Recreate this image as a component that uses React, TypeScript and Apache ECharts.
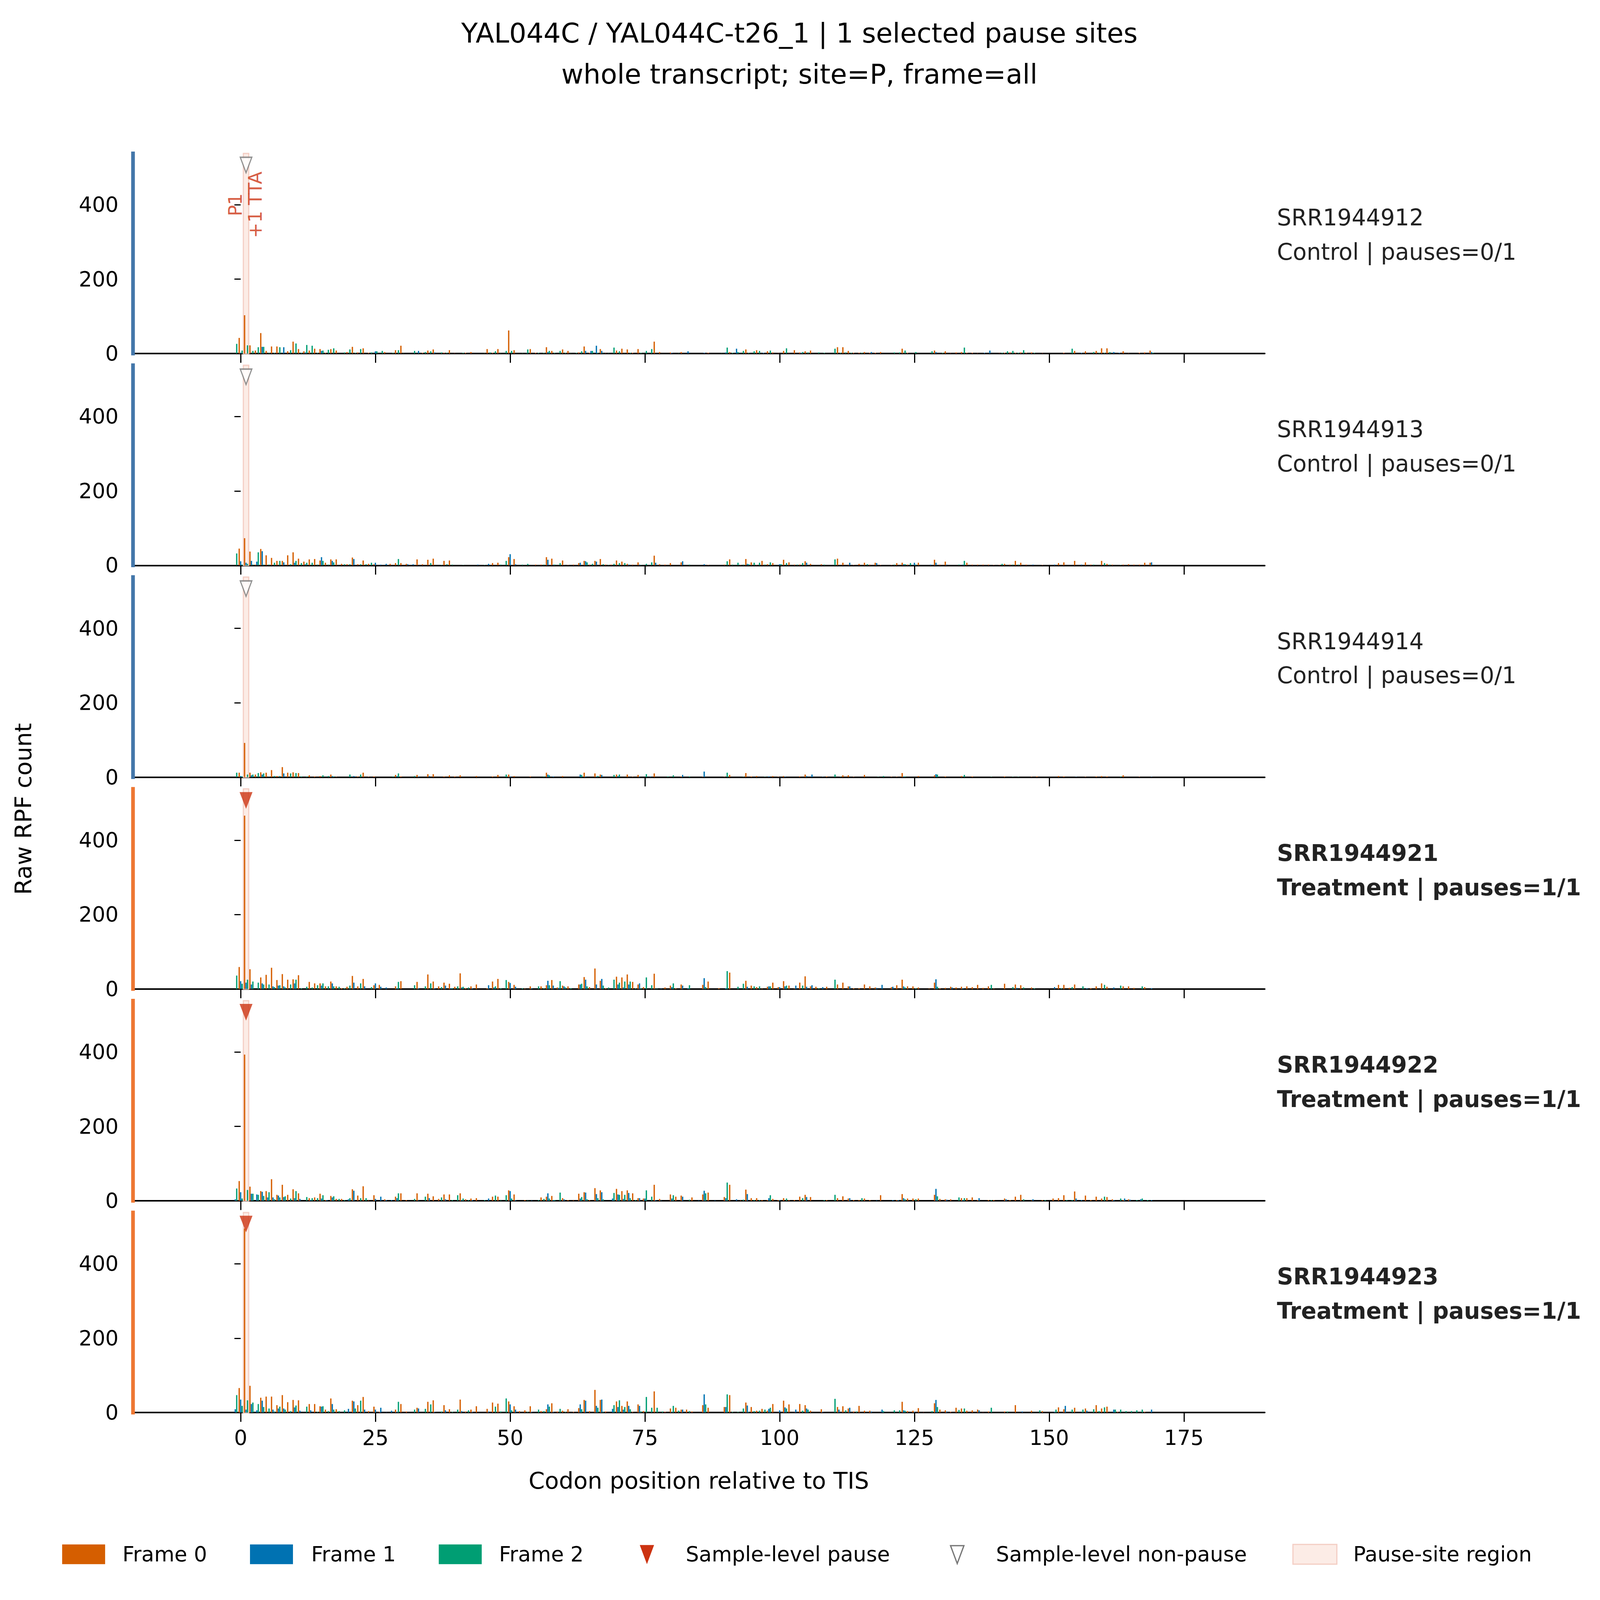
import React, { useEffect, useRef } from 'react';
import * as echarts from 'echarts';

type Pt = [number, number];

// ---- data: [codon, raw RPF count] per frame ----
const S912_F0: Pt[] = [[0,42],[1,103],[2,22],[3,8],[4,55],[5,7],[6,19],[7,19],[9,6],[10,32],[11,12],[12,6],[13,8],[14,13],[15,12],[16,2],[17,12],[18,8],[20,4],[21,18],[22,3],[23,14],[24,2],[27,4],[29,9],[30,21],[34,2],[35,8],[36,11],[38,2],[39,9],[40,1],[42,2],[43,4],[46,12],[47,2],[48,12],[50,62],[51,9],[54,12],[55,2],[57,17],[58,7],[60,11],[61,7],[63,3],[64,19],[65,2],[67,12],[68,1],[70,8],[71,13],[72,11],[73,2],[74,12],[77,32],[78,4],[80,3],[82,4],[87,2],[91,4],[94,11],[96,9],[98,6],[99,3],[100,1],[101,7],[102,1],[103,9],[104,3],[105,6],[106,8],[111,17],[112,17],[113,7],[114,2],[115,2],[116,4],[117,2],[118,2],[119,4],[123,13],[124,2],[129,8],[131,6],[132,1],[133,3],[134,4],[135,2],[136,2],[137,1],[141,1],[142,2],[143,3],[144,2],[145,3],[146,2],[147,3],[149,1],[153,2],[155,7],[157,6],[159,7],[160,14],[161,14],[164,6],[165,1],[167,2],[168,3],[169,8]];
const S912_F1: Pt[] = [[0,2],[4,18],[8,17],[12,3],[15,7],[25,6],[33,7],[36,3],[53,1],[57,4],[64,7],[65,7],[66,21],[67,7],[80,2],[83,6],[86,2],[90,3],[92,13],[97,2],[104,2],[117,4],[129,4],[138,2],[139,8],[156,2],[162,4],[163,2],[169,4]];
const S912_F2: Pt[] = [[-1,26],[0,8],[1,22],[2,7],[3,17],[4,18],[5,2],[6,2],[7,17],[9,9],[10,27],[11,2],[12,23],[13,21],[14,2],[15,8],[16,10],[17,14],[19,3],[20,11],[21,2],[22,12],[24,3],[25,6],[26,7],[28,2],[29,9],[30,1],[32,7],[34,4],[35,6],[37,3],[38,2],[41,2],[45,1],[46,3],[47,6],[48,1],[49,7],[50,7],[52,1],[53,11],[55,2],[56,2],[57,7],[58,2],[59,7],[60,2],[61,1],[62,2],[63,6],[65,7],[66,2],[67,1],[68,1],[69,16],[70,6],[71,1],[72,2],[74,2],[75,7],[76,12],[81,1],[89,1],[90,16],[91,2],[92,4],[93,7],[94,2],[95,6],[96,7],[98,8],[101,14],[104,4],[105,3],[107,3],[108,2],[110,13],[111,2],[112,3],[113,2],[115,2],[121,3],[122,3],[123,8],[125,4],[128,6],[130,2],[134,16],[141,2],[142,6],[143,7],[144,2],[145,9],[147,2],[154,13],[158,4],[159,2],[160,2],[161,4],[169,2]];

const S913_F0: Pt[] = [[0,45],[1,73],[2,37],[3,2],[4,44],[5,27],[6,20],[7,12],[8,12],[9,27],[10,35],[11,18],[12,10],[13,16],[14,17],[15,13],[16,7],[17,16],[18,16],[19,4],[20,3],[21,21],[22,3],[23,13],[24,4],[25,3],[28,4],[29,6],[30,6],[31,4],[33,16],[34,3],[35,15],[36,18],[38,12],[39,13],[47,6],[48,7],[50,22],[51,17],[55,2],[56,2],[57,22],[58,18],[60,13],[61,1],[62,2],[63,6],[64,12],[65,2],[66,12],[67,17],[68,2],[69,2],[70,13],[71,10],[72,4],[73,2],[74,8],[77,26],[78,3],[79,2],[80,6],[82,8],[87,1],[90,2],[91,16],[93,1],[94,17],[95,8],[96,1],[97,12],[98,3],[99,6],[101,15],[102,8],[103,2],[104,2],[105,11],[106,4],[108,3],[111,18],[112,7],[113,2],[114,1],[115,4],[116,7],[117,2],[118,7],[119,1],[121,1],[122,6],[123,7],[124,2],[126,7],[129,15],[130,2],[131,10],[135,7],[136,2],[137,2],[138,2],[139,2],[140,1],[141,1],[142,4],[143,2],[144,12],[145,7],[146,2],[149,1],[152,6],[153,8],[155,12],[157,8],[158,2],[160,12],[161,4],[162,2],[164,2],[165,3],[166,2],[167,2],[168,7],[169,7]];
const S913_F1: Pt[] = [[0,11],[1,7],[2,12],[3,10],[4,38],[8,8],[10,7],[12,3],[15,22],[17,12],[21,17],[25,7],[26,2],[27,4],[31,3],[32,3],[44,2],[46,4],[50,30],[51,3],[57,15],[58,2],[60,1],[63,7],[64,11],[66,10],[72,2],[74,2],[77,7],[82,11],[86,3],[94,4],[100,3],[105,7],[113,7],[118,6],[123,3],[125,7],[128,2],[129,7],[131,2],[134,2],[147,2],[151,2],[156,2],[169,8]];
const S913_F2: Pt[] = [[-1,32],[0,2],[1,4],[2,2],[3,35],[4,2],[5,2],[6,7],[7,12],[9,3],[10,12],[11,6],[12,7],[13,7],[14,2],[15,12],[16,2],[17,8],[19,3],[20,3],[22,3],[23,3],[24,7],[29,17],[35,6],[37,1],[38,3],[39,2],[41,1],[45,1],[48,2],[49,12],[52,2],[53,4],[56,2],[58,2],[59,6],[64,8],[65,4],[67,3],[68,1],[69,4],[70,6],[71,6],[74,1],[75,4],[76,8],[83,2],[90,11],[91,2],[92,7],[93,2],[94,3],[95,7],[96,7],[97,2],[98,8],[100,3],[101,6],[103,2],[104,6],[108,2],[110,16],[116,3],[121,2],[123,3],[124,6],[125,2],[133,2],[134,12],[141,4],[143,2],[144,2],[158,2],[160,6],[161,2],[163,1]];

const S914_F0: Pt[] = [[0,12],[1,92],[2,12],[3,7],[4,13],[5,12],[6,19],[7,3],[8,27],[9,12],[10,13],[11,11],[13,5],[14,2],[15,3],[17,7],[18,1],[22,2],[23,12],[24,1],[25,2],[29,6],[30,2],[33,6],[35,8],[36,8],[38,2],[39,5],[40,2],[41,5],[44,3],[47,2],[48,6],[50,7],[51,3],[54,2],[57,12],[60,3],[64,12],[66,10],[67,7],[70,7],[72,7],[73,1],[74,6],[77,10],[82,2],[86,1],[90,1],[91,6],[94,11],[95,2],[96,3],[99,3],[100,1],[101,3],[104,2],[105,7],[109,2],[112,5],[113,5],[114,1],[116,6],[121,1],[122,1],[123,11],[126,3],[129,5],[131,2],[134,3],[136,2],[142,2],[147,1],[148,2],[152,3],[153,2],[157,1],[159,2],[160,3],[161,2],[164,5],[167,1]];
const S914_F1: Pt[] = [[0,3],[2,5],[4,7],[8,10],[17,3],[21,3],[29,3],[33,2],[35,3],[50,2],[57,7],[58,2],[63,7],[64,2],[66,2],[67,6],[70,3],[74,2],[76,2],[82,6],[86,15],[98,2],[101,2],[105,3],[106,7],[108,1],[123,2],[129,8],[155,1],[169,1]];
const S914_F2: Pt[] = [[-1,12],[0,2],[1,7],[2,7],[3,11],[4,10],[5,1],[6,3],[7,3],[9,10],[10,11],[11,2],[12,2],[15,5],[16,3],[17,2],[20,7],[22,7],[28,2],[29,10],[32,3],[49,7],[56,2],[57,5],[63,6],[66,3],[69,6],[70,7],[75,8],[79,2],[80,5],[83,2],[90,12],[93,1],[97,1],[110,7],[111,1],[118,1],[119,3],[123,2],[129,7],[134,6],[139,1],[143,1],[144,1],[163,2]];

const S921_F0: Pt[] = [[0,59],[1,466],[2,53],[4,31],[5,38],[6,57],[7,24],[8,40],[9,25],[10,26],[11,37],[13,19],[14,15],[15,15],[16,7],[17,20],[18,7],[19,2],[20,6],[21,35],[22,7],[23,27],[25,10],[26,11],[29,7],[30,21],[33,19],[35,39],[36,20],[37,7],[38,17],[39,14],[40,6],[41,42],[42,2],[43,7],[44,12],[46,2],[47,20],[48,27],[50,19],[51,11],[53,1],[54,7],[56,7],[57,10],[58,24],[59,4],[60,9],[61,7],[63,12],[64,32],[65,5],[66,55],[67,22],[68,2],[70,33],[71,31],[72,39],[73,19],[74,12],[75,5],[77,41],[79,4],[80,9],[81,2],[82,12],[86,11],[87,20],[89,2],[91,44],[94,22],[95,9],[96,5],[97,1],[98,6],[99,17],[100,5],[101,21],[102,9],[103,1],[104,17],[105,34],[106,7],[107,6],[109,6],[111,12],[112,17],[113,7],[114,2],[115,2],[116,12],[117,7],[118,4],[121,5],[122,10],[123,25],[124,7],[125,7],[126,4],[128,1],[129,17],[130,2],[131,3],[132,6],[133,4],[134,6],[135,7],[136,5],[137,11],[138,3],[139,7],[140,1],[142,14],[144,12],[145,10],[147,4],[152,11],[153,11],[154,3],[155,12],[158,2],[159,7],[160,15],[161,6],[164,7],[165,7],[166,3],[168,5]];
const S921_F1: Pt[] = [[0,21],[1,17],[2,12],[4,15],[6,7],[7,9],[8,7],[10,15],[15,9],[17,15],[21,17],[23,7],[25,15],[26,6],[27,4],[29,2],[33,2],[36,2],[38,9],[39,2],[41,4],[43,2],[46,10],[47,4],[50,16],[51,6],[54,2],[57,22],[58,9],[59,3],[60,7],[63,12],[64,25],[66,12],[67,27],[70,12],[71,4],[72,12],[74,15],[77,1],[78,1],[80,5],[82,9],[83,2],[86,29],[90,2],[94,6],[98,7],[100,5],[101,7],[103,9],[105,6],[106,10],[108,5],[113,7],[118,3],[119,11],[121,6],[123,7],[129,26],[132,4],[134,2],[144,3],[151,5],[157,2],[162,4],[169,2]];
const S921_F2: Pt[] = [[-1,36],[0,14],[1,25],[2,20],[3,17],[4,12],[5,12],[6,5],[7,10],[8,4],[9,12],[10,25],[11,2],[12,6],[13,4],[14,10],[15,15],[16,7],[17,7],[18,6],[19,2],[20,9],[22,15],[24,5],[29,19],[32,10],[34,7],[35,15],[37,5],[39,2],[40,7],[41,6],[42,4],[47,7],[48,2],[49,24],[52,2],[55,7],[56,2],[57,10],[59,21],[60,4],[61,2],[63,14],[64,7],[67,9],[68,4],[69,25],[70,17],[71,20],[72,20],[73,2],[74,2],[75,31],[76,10],[77,1],[80,15],[83,10],[86,5],[90,48],[92,6],[93,14],[95,7],[96,7],[98,7],[101,9],[104,9],[107,2],[110,25],[123,4],[125,2],[129,6],[139,11],[143,5],[145,4],[147,2],[152,2],[154,5],[156,7],[160,11],[163,9],[167,7]];

const S922_F0: Pt[] = [[0,53],[1,393],[2,38],[4,26],[5,26],[6,58],[7,16],[8,43],[9,16],[10,31],[11,20],[13,7],[14,9],[15,19],[16,2],[17,13],[18,5],[19,5],[21,31],[22,14],[23,39],[24,1],[25,15],[27,4],[29,11],[30,20],[31,2],[33,20],[35,19],[36,12],[37,5],[38,17],[39,17],[41,20],[42,4],[43,6],[44,7],[47,11],[48,11],[50,28],[51,17],[53,2],[56,9],[57,11],[58,13],[60,7],[61,2],[62,1],[63,19],[64,23],[65,2],[66,34],[67,28],[70,32],[71,26],[72,28],[73,20],[74,7],[75,6],[77,43],[78,5],[80,17],[81,11],[82,14],[84,9],[86,17],[87,22],[90,10],[91,43],[93,1],[94,30],[95,7],[96,7],[97,2],[98,2],[99,5],[100,2],[101,7],[102,2],[103,2],[104,11],[105,16],[106,10],[109,2],[111,7],[112,12],[113,6],[114,2],[115,2],[116,6],[117,2],[119,15],[122,2],[123,18],[124,6],[125,6],[126,6],[129,16],[130,5],[131,4],[132,4],[134,7],[135,7],[136,9],[137,2],[139,2],[140,2],[142,6],[143,2],[144,11],[145,16],[147,1],[149,2],[151,6],[152,7],[153,15],[155,25],[157,14],[158,2],[159,11],[160,6],[161,10],[162,4],[164,2],[165,4]];
const S922_F1: Pt[] = [[-1,4],[0,23],[2,19],[3,17],[4,24],[5,9],[6,9],[7,14],[8,10],[10,7],[11,5],[13,2],[15,6],[16,2],[17,9],[20,4],[21,27],[25,5],[26,11],[27,2],[28,2],[29,7],[33,1],[35,7],[38,4],[41,2],[43,2],[46,6],[50,26],[51,2],[54,1],[57,20],[58,2],[60,4],[63,6],[64,22],[66,18],[67,23],[69,6],[70,17],[71,5],[72,21],[74,7],[75,6],[77,2],[78,1],[80,6],[82,11],[85,1],[86,27],[88,1],[90,7],[92,4],[94,18],[98,7],[100,2],[105,10],[113,7],[118,1],[121,2],[122,2],[123,7],[129,32],[131,3],[134,2],[137,7],[142,4],[147,4],[155,6],[156,2],[162,2],[164,6],[165,3],[167,4],[169,2]];
const S922_F2: Pt[] = [[-1,33],[0,6],[1,29],[2,19],[3,16],[4,13],[5,23],[6,4],[7,9],[8,12],[9,6],[10,26],[12,10],[13,7],[14,7],[15,15],[17,12],[18,5],[19,2],[20,7],[22,7],[23,7],[29,20],[32,5],[34,11],[37,9],[39,2],[40,15],[41,6],[42,2],[45,2],[47,14],[48,1],[49,15],[50,6],[53,1],[55,2],[56,5],[57,6],[58,2],[59,22],[63,10],[64,4],[66,7],[67,4],[69,21],[70,16],[71,16],[72,7],[73,2],[75,28],[76,11],[80,15],[83,3],[86,20],[90,49],[93,3],[95,2],[96,2],[98,15],[101,6],[104,7],[108,2],[110,16],[115,7],[123,4],[125,4],[129,12],[133,9],[134,7],[139,2],[145,4],[149,2],[153,2],[154,2],[160,11],[163,6],[166,2],[167,6],[168,2]];

const S923_F0: Pt[] = [[0,66],[1,495],[2,72],[4,40],[5,43],[6,43],[7,20],[8,47],[9,28],[10,34],[11,33],[13,23],[14,23],[15,17],[16,8],[17,38],[18,9],[21,32],[22,20],[23,42],[24,4],[25,16],[26,2],[29,8],[30,23],[31,3],[33,13],[35,29],[36,33],[38,20],[39,9],[41,35],[42,3],[43,8],[44,17],[46,10],[47,27],[48,24],[50,30],[51,17],[52,4],[53,6],[54,17],[56,4],[57,9],[58,25],[59,3],[60,5],[61,9],[62,2],[63,12],[64,34],[65,4],[66,61],[67,34],[68,3],[70,30],[71,18],[72,30],[73,2],[74,22],[75,4],[77,57],[79,2],[80,11],[81,13],[82,8],[83,8],[84,3],[86,20],[87,13],[90,15],[91,47],[94,27],[95,15],[96,5],[97,10],[98,5],[99,23],[100,1],[101,32],[102,22],[103,1],[104,23],[105,20],[106,5],[108,9],[111,15],[112,17],[113,11],[114,3],[115,18],[116,5],[117,5],[123,29],[124,4],[125,5],[126,12],[127,1],[129,25],[130,8],[131,6],[132,2],[133,13],[134,11],[135,5],[136,6],[137,8],[138,1],[139,3],[142,3],[144,20],[147,5],[149,4],[152,14],[153,9],[155,13],[157,11],[159,20],[160,11],[161,16],[163,2],[168,2]];
const S923_F1: Pt[] = [[-1,9],[0,35],[1,8],[2,23],[3,6],[4,32],[6,8],[7,11],[8,11],[10,14],[11,5],[13,6],[15,16],[17,23],[20,10],[21,30],[23,8],[25,8],[26,13],[27,1],[28,5],[29,2],[33,11],[36,2],[38,6],[41,4],[43,2],[46,3],[50,22],[51,8],[54,2],[57,22],[58,2],[63,22],[64,32],[66,18],[67,35],[69,10],[70,15],[71,8],[72,18],[74,18],[80,2],[82,8],[86,49],[90,15],[94,19],[98,10],[100,6],[101,14],[103,8],[105,11],[108,2],[111,8],[113,13],[117,3],[119,8],[123,6],[125,2],[129,34],[131,3],[137,6],[145,3],[151,2],[153,18],[156,1],[157,5],[162,8],[169,8]];
const S923_F2: Pt[] = [[-1,47],[0,18],[1,33],[2,27],[3,23],[4,15],[5,11],[6,3],[7,16],[8,8],[9,4],[10,19],[12,16],[14,2],[15,17],[16,4],[17,8],[18,4],[19,6],[21,11],[22,32],[29,29],[32,8],[34,10],[35,22],[37,3],[39,2],[40,8],[42,6],[47,16],[48,3],[49,38],[50,6],[53,2],[55,8],[56,4],[57,16],[59,10],[60,2],[63,9],[66,13],[67,2],[69,20],[70,33],[71,15],[72,9],[74,3],[75,42],[76,13],[77,13],[78,3],[80,18],[81,5],[83,4],[86,22],[90,49],[91,2],[92,2],[93,11],[94,2],[95,4],[96,5],[97,8],[98,13],[101,11],[104,5],[105,8],[110,37],[112,6],[114,3],[119,4],[121,6],[122,6],[123,5],[128,4],[129,15],[133,7],[134,11],[139,13],[142,3],[148,6],[151,8],[154,8],[156,8],[158,9],[159,4],[160,14],[162,8],[163,8],[164,4],[165,4],[166,6],[167,8]];

const SAMPLES = ['SRR1944912', 'SRR1944913', 'SRR1944914', 'SRR1944921', 'SRR1944922', 'SRR1944923'];
const CONDITIONS = ['Control', 'Control', 'Control', 'Treatment', 'Treatment', 'Treatment'];
const PAUSES_CALLED = [0, 0, 0, 1, 1, 1];
const PAUSES_TOTAL = 1;
const COUNTS: Pt[][][] = [
  [S912_F0, S912_F1, S912_F2],
  [S913_F0, S913_F1, S913_F2],
  [S914_F0, S914_F1, S914_F2],
  [S921_F0, S921_F1, S921_F2],
  [S922_F0, S922_F1, S922_F2],
  [S923_F0, S923_F1, S923_F2],
];

const FRAME_NAMES = ['Frame 0', 'Frame 1', 'Frame 2'];
const X_TICKS = [0, 25, 50, 75, 100, 125, 150, 175];
const Y_TICKS = [0, 200, 400];
const X_MIN = -20;
const X_MAX = 190;
const Y_MAX = 538;

const PAUSE_CODON = 1;
const PAUSE_REGION = [0.5, 1.5];
const PAUSE_MARK_Y = 507;
const PAUSE_LABELS = [
  { text: 'P1', codon: -1.0, y: 400 },
  { text: '+1 TTA', codon: 2.7, y: 400 },
];

const TITLE = 'YAL044C / YAL044C-t26_1 | 1 selected pause sites';
const SUBTITLE = 'whole transcript; site=P, frame=all';
const X_NAME = 'Codon position relative to TIS';
const Y_NAME = 'Raw RPF count';

// ---- styles / layout (pixels of the 6925 x 5182 design, fitted to the window) ----
const W = 6925;
const H = 5182;
const FONT = 'DejaVu Sans';
const FRAME_COLORS = ['#D55E00', '#0072B2', '#009E73'];
const FRAME_OFFSETS = [-0.27, 0, 0.27];
const BAR_W = 0.24;
const COND_COLORS: Record<string, string> = { Control: '#4477AA', Treatment: '#EE7733' };
const PAUSE_RED = '#CC3311';
const NONPAUSE_GREY = '#777777';
const REGION_FILL = '#FCECE6';
const REGION_EDGE = '#F4CEC4';

const GRID_LEFT = 575;
const GRID_RIGHT = 5474;
const GRID_TOP0 = 497;
const GRID_PITCH = 686;
const GRID_H = 648;

function buildOption(sx: number, sy: number) {
  const px = (v: number) => v * sx;
  const py = (v: number) => v * sy;
  const sf = Math.min(sx, sy);
  const pf = (v: number) => v * sf;
  const n = SAMPLES.length;
  const grids: any[] = [];
  const xAxes: any[] = [];
  const yAxes: any[] = [];
  const series: any[] = [];
  const graphic: any[] = [];

  const barRenderer = (color: string) => (_params: any, api: any) => {
    const x = api.value(0);
    const y = api.value(1);
    const a = api.coord([x - BAR_W / 2, y]);
    const b = api.coord([x + BAR_W / 2, 0]);
    return {
      type: 'rect',
      shape: { x: a[0], y: a[1], width: b[0] - a[0], height: b[1] - a[1] },
      style: { fill: color },
    };
  };

  const regionRenderer = (_params: any, api: any) => {
    const a = api.coord([api.value(0), Y_MAX]);
    const b = api.coord([api.value(1), 0]);
    return {
      type: 'rect',
      shape: { x: a[0], y: a[1], width: b[0] - a[0], height: b[1] - a[1] },
      style: { fill: REGION_FILL, stroke: REGION_EDGE, lineWidth: pf(5) },
    };
  };

  const text = (x: number, y: number, str: string, size: number, extra: any = {}, rotation = 0) => ({
    type: 'text', x: px(x), y: py(y), rotation,
    style: { text: str, fontSize: pf(size), fontFamily: FONT, fill: '#000', align: 'left', verticalAlign: 'middle', ...extra },
  });

  for (let i = 0; i < n; i++) {
    const top = GRID_TOP0 + i * GRID_PITCH;
    const zero = top + GRID_H;
    const cond = CONDITIONS[i];
    const isPause = PAUSES_CALLED[i] > 0;

    grids.push({ left: px(GRID_LEFT), top: py(top), width: px(GRID_RIGHT - GRID_LEFT), height: py(GRID_H), containLabel: false, outerBoundsMode: 'none' });
    xAxes.push({
      type: 'value', gridIndex: i, min: X_MIN, max: X_MAX,
      axisLine: { show: true, onZero: false, lineStyle: { color: '#000', width: pf(6.5) } },
      axisTick: { show: true, customValues: X_TICKS, length: py(30), lineStyle: { color: '#000', width: pf(5) } },
      axisLabel: { show: i === n - 1, customValues: X_TICKS, fontSize: pf(90), fontFamily: FONT, color: '#000', margin: py(49) },
      splitLine: { show: false },
    });
    yAxes.push({
      type: 'value', gridIndex: i, min: 0, max: Y_MAX,
      axisLine: { show: false },
      axisTick: { show: true, customValues: Y_TICKS, length: px(27), lineStyle: { color: '#000', width: pf(5) } },
      axisLabel: { show: true, customValues: Y_TICKS, fontSize: pf(90), fontFamily: FONT, color: '#000', margin: px(62) },
      splitLine: { show: false },
    });

    // pause-site region + coloured left spine
    series.push({
      type: 'custom', name: 'Pause-site region', xAxisIndex: i, yAxisIndex: i, z: 1,
      renderItem: regionRenderer, data: [PAUSE_REGION], silent: true,
      markLine: {
        silent: true, symbol: ['none', 'none'], label: { show: false },
        lineStyle: { color: COND_COLORS[cond], width: px(16), type: 'solid', cap: 'square' },
        emphasis: { disabled: true },
        data: [{ xAxis: X_MIN }],
      },
    });

    for (let f = 0; f < 3; f++) {
      series.push({
        type: 'custom', name: FRAME_NAMES[f], xAxisIndex: i, yAxisIndex: i, z: 3, silent: true,
        renderItem: barRenderer(FRAME_COLORS[f]),
        data: COUNTS[i][f].map(([c, v]) => [c + FRAME_OFFSETS[f], v]),
      });
    }

    series.push({
      type: 'scatter', name: isPause ? 'Sample-level pause' : 'Sample-level non-pause',
      xAxisIndex: i, yAxisIndex: i, z: 5, silent: true,
      symbol: 'triangle', symbolRotate: 180,
      symbolSize: isPause ? [px(56), py(54)] : [px(50), py(50)],
      itemStyle: isPause
        ? { color: PAUSE_RED }
        : { color: '#ffffff', borderColor: NONPAUSE_GREY, borderWidth: pf(5.5) },
      data: [[PAUSE_CODON, PAUSE_MARK_Y]],
    });

    if (i === 0) {
      series.push({
        type: 'scatter', name: 'pause labels', xAxisIndex: i, yAxisIndex: i, z: 6, silent: true,
        symbolSize: 0,
        label: { show: true, formatter: '{b}', rotate: 90, position: 'inside', color: PAUSE_RED, fontSize: pf(80), fontFamily: FONT },
        data: PAUSE_LABELS.map((p) => ({ name: p.text, value: [p.codon, p.y] })),
      });
    }

    // sample labels on the right
    const weight = cond === 'Treatment' ? 'bold' : 'normal';
    graphic.push(text(5527, zero - 440, SAMPLES[i], 98, { fontWeight: weight, fill: '#222' }));
    graphic.push(text(5527, zero - 329, `${cond} | pauses=${PAUSES_CALLED[i]}/${PAUSES_TOTAL}`, 98, { fontWeight: weight, fill: '#222' }));
  }

  // titles and axis names
  graphic.push(text(3460, 107, TITLE, 117, { align: 'center' }));
  graphic.push(text(3460, 240, SUBTITLE, 117, { align: 'center' }));
  graphic.push(text((GRID_LEFT + GRID_RIGHT) / 2, 4795, X_NAME, 100, { align: 'center' }));
  graphic.push(text(100, 2620, Y_NAME, 100, { align: 'center' }, Math.PI / 2));

  // legend
  const LY = 5034;
  [269, 1082, 1899].forEach((x, f) => {
    graphic.push({ type: 'rect', shape: { x: px(x), y: py(LY - 32), width: px(186), height: py(64) }, style: { fill: FRAME_COLORS[f] } });
  });
  graphic.push(text(530, LY, FRAME_NAMES[0], 90));
  graphic.push(text(1347, LY, FRAME_NAMES[1], 90));
  graphic.push(text(2160, LY, FRAME_NAMES[2], 90));
  graphic.push({ type: 'polygon', shape: { points: [[px(2769), py(LY - 30)], [px(2831), py(LY - 30)], [px(2800), py(LY + 32)]] }, style: { fill: PAUSE_RED } });
  graphic.push(text(2968, LY, 'Sample-level pause', 90));
  graphic.push({ type: 'polygon', shape: { points: [[px(4114), py(LY - 28)], [px(4172), py(LY - 28)], [px(4143), py(LY + 30)]] }, style: { fill: '#fff', stroke: NONPAUSE_GREY, lineWidth: pf(5.5) } });
  graphic.push(text(4311, LY, 'Sample-level non-pause', 90));
  graphic.push({ type: 'rect', shape: { x: px(5596), y: py(LY - 32), width: px(190), height: py(64) }, style: { fill: REGION_FILL, stroke: REGION_EDGE, lineWidth: pf(5) } });
  graphic.push(text(5857, LY, 'Pause-site region', 90));

  return {
    animation: false,
    backgroundColor: '#ffffff',
    textStyle: { fontFamily: FONT },
    grid: grids,
    xAxis: xAxes,
    yAxis: yAxes,
    series,
    graphic,
  };
}

export default function App() {
  const ref = useRef<HTMLDivElement>(null);
  const vw = window.innerWidth || W;
  const vh = window.innerHeight || H;
  const sx = Math.min(vw / W, 1);
  const sy = Math.min(vh / H, 1);
  useEffect(() => {
    const chart = echarts.init(ref.current, null, { renderer: 'svg' });
    chart.setOption(buildOption(sx, sy) as any);
    return () => chart.dispose();
  }, [sx, sy]);
  return (
    <div
      ref={ref}
      style={{ position: 'absolute', left: 0, top: 0, width: Math.floor(W * sx), height: Math.floor(H * sy), background: '#fff' }}
    />
  );
}
